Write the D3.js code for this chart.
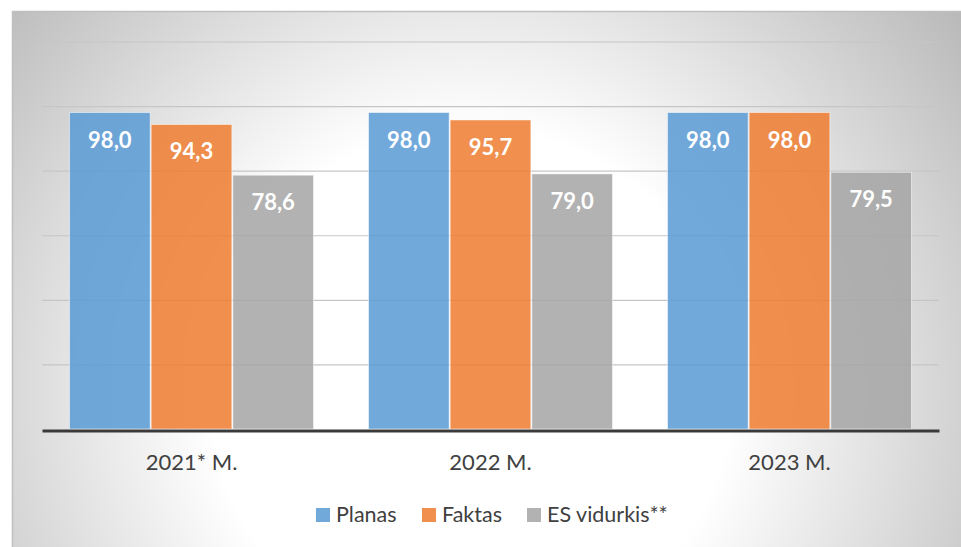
<!DOCTYPE html>
<html>
<head>
<meta charset="utf-8">
<script src="https://cdn.jsdelivr.net/npm/d3@7/dist/d3.min.js"></script>
<style>
  html, body { margin: 0; padding: 0; background: #ffffff; }
  svg { display: block; }
</style>
</head>
<body>
<svg id="chart" width="961" height="547"></svg>
<script>
const categories = ["2021* M.", "2022 M.", "2023 M."];
const seriesNames = ["Planas", "Faktas", "ES vidurkis**"];
const planas = [98.0, 98.0, 98.0];
const faktas = [94.3, 95.7, 98.0];
const esVidurkis = [78.6, 79.0, 79.5];
const yTicks = [0, 20, 40, 60, 80, 100, 120];
const colors = ["#5B9BD5", "#ED7D31", "#A5A5A5"];

const seriesValues = [planas, faktas, esVidurkis];
const data = categories.map((c, i) => ({
  category: c,
  values: seriesNames.map((s, j) => ({ series: s, value: seriesValues[j][i], color: colors[j] }))
}));

const svg = d3.select("#chart");
const W = 961, H = 547;
const font = "Lato, 'Open Sans', sans-serif";

// background gradient
const defs = svg.append("defs");
const grad = defs.append("radialGradient")
  .attr("id", "bg").attr("gradientUnits", "userSpaceOnUse")
  .attr("cx", 470).attr("cy", 390).attr("r", 620)
  .attr("fx", 470).attr("fy", 390);
grad.append("stop").attr("offset", "0").attr("stop-color", "#ffffff");
grad.append("stop").attr("offset", "0.42").attr("stop-color", "#ffffff");
grad.append("stop").attr("offset", "1").attr("stop-color", "#b9b9b9");

svg.append("rect")
  .attr("x", 12.5).attr("y", 11.5).attr("width", W).attr("height", H)
  .attr("fill", "url(#bg)").attr("stroke", "#bfbfbf").attr("stroke-width", 1.5);

const x0 = d3.scaleBand().domain(categories).range([42, 939]).paddingInner(0).paddingOuter(0);
const x1 = d3.scaleBand().domain(seriesNames).range([27, x0.bandwidth() - 27]).padding(0);
const y = d3.scaleLinear().domain([0, 120]).range([429, 41.5]);

// gridlines
const yAxis = d3.axisLeft(y).tickValues(yTicks.filter(t => t > 0)).tickSize(-(939 - 42)).tickFormat("");
const gAxis = svg.append("g").attr("transform", "translate(42,0)").call(yAxis);
gAxis.select(".domain").remove();
gAxis.selectAll(".tick line").attr("stroke", "#c6c6c6").attr("stroke-width", 1.2);

// bars
const groups = svg.append("g").selectAll("g").data(data).join("g")
  .attr("transform", d => `translate(${x0(d.category)},0)`);

groups.selectAll("rect").data(d => d.values).join("rect")
  .attr("x", d => x1(d.series) + 0.5)
  .attr("y", d => y(d.value))
  .attr("width", x1.bandwidth() - 1)
  .attr("height", d => y(0) - y(d.value))
  .attr("fill", d => d.color)
  .attr("fill-opacity", 0.86)
  .attr("stroke", "#ffffff")
  .attr("stroke-opacity", 0.5)
  .attr("stroke-width", 1);

groups.selectAll("text").data(d => d.values).join("text")
  .attr("x", d => x1(d.series) + x1.bandwidth() / 2)
  .attr("y", d => y(d.value) + 35)
  .attr("text-anchor", "middle")
  .attr("fill", "#ffffff")
  .attr("font-family", font)
  .attr("font-weight", "bold")
  .attr("font-size", "22px")
  .text(d => d.value.toFixed(1).replace(".", ","));

// x axis
const xAxis = d3.axisBottom(x0).tickSize(0).tickPadding(0);
const gx = svg.append("g").attr("transform", "translate(0,430.5)").call(xAxis);
gx.select(".domain").attr("stroke", "#3a3a3a").attr("stroke-width", 3.2);
gx.selectAll(".tick text")
  .attr("dy", 0).attr("y", 39)
  .attr("fill", "#404040")
  .attr("font-family", font)
  .attr("font-size", "22px");

// legend
svg.append("rect").attr("x", 290).attr("y", 492).attr("width", 400).attr("height", 45)
  .attr("fill", "#ffffff").attr("fill-opacity", 0.25);
const legendX = [316, 422, 527];
const lg = svg.append("g").selectAll("g").data(seriesNames).join("g")
  .attr("transform", (d, i) => `translate(${legendX[i]},508)`);
lg.append("rect").attr("width", 14).attr("height", 14)
  .attr("fill", (d, i) => colors[i]).attr("fill-opacity", 0.86);
lg.append("text").attr("x", 20).attr("y", 14)
  .attr("fill", "#404040")
  .attr("font-family", font)
  .attr("font-size", "21.5px")
  .text(d => d);
</script>
</body>
</html>
